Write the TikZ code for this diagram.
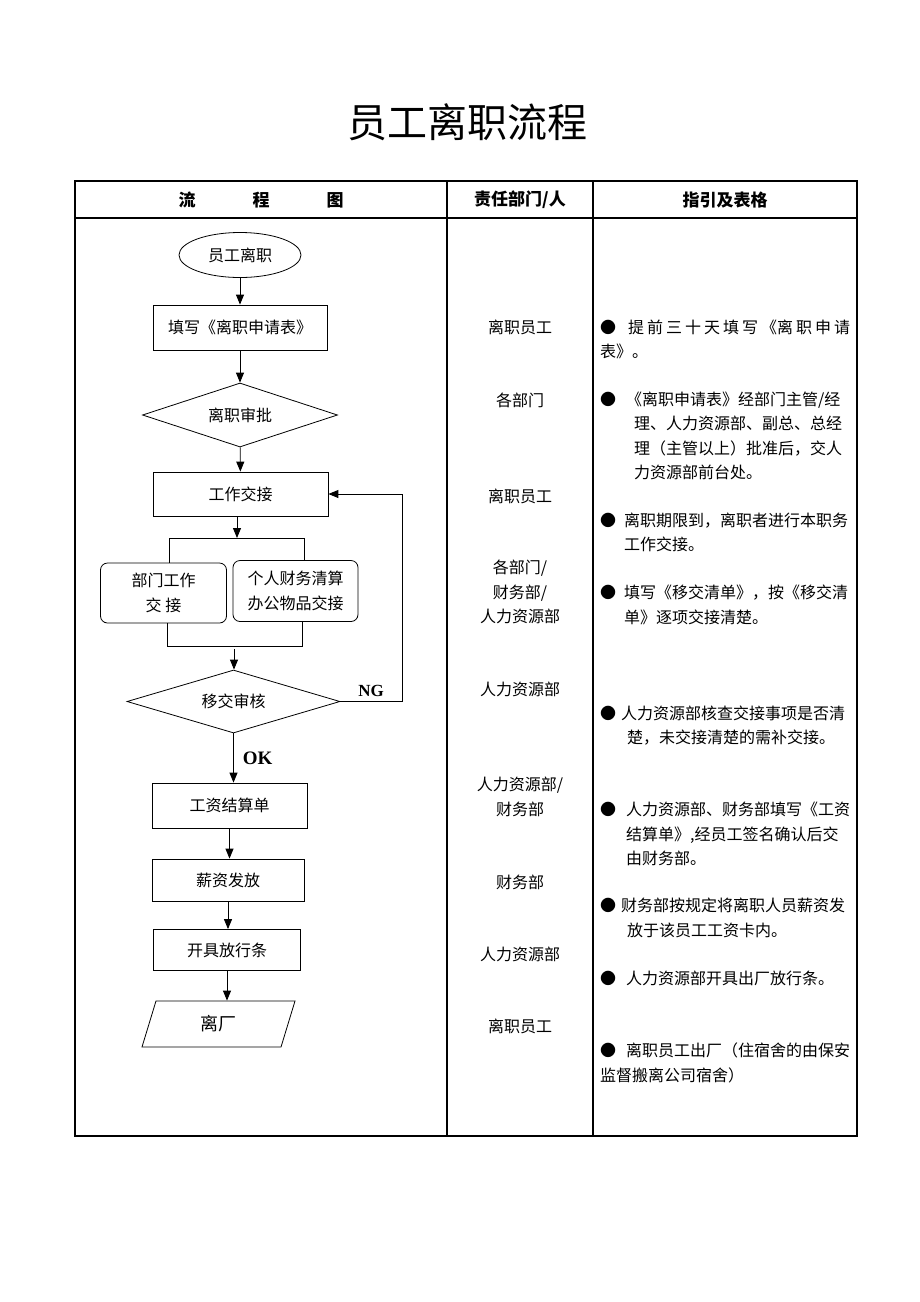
\documentclass[tikz,border=0pt]{standalone}
\usepackage{fontspec}
\newfontfamily\cjk{Noto Sans CJK SC}
\newfontfamily\romanbold{Liberation Serif}
\usetikzlibrary{shapes.geometric, arrows.meta, positioning}

\begin{document}
\begin{tikzpicture}[
    x=1pt, y=-1pt,
    every node/.style={font=\cjk\fontsize{16}{24.5}\selectfont, inner sep=0pt},
    process/.style={rectangle, draw=black, line width=0.8pt},
    subtask/.style={rectangle, rounded corners=7pt, draw=black, line width=0.8pt, align=center},
    decision/.style={diamond, aspect=3.2, draw=black, line width=0.8pt},
    terminal/.style={ellipse, draw=black, line width=0.8pt},
    iobox/.style={trapezium, trapezium left angle=50, trapezium right angle=130, trapezium stretches body, draw=black, line width=0.8pt},
    arrow/.style={-{Triangle[length=10pt,width=8pt]}, line width=0.9pt},
    link/.style={line width=0.8pt},
    verdict/.style={font=\romanbold\bfseries\fontsize{17}{17}\selectfont},
    header/.style={font=\cjk\bfseries\fontsize{17}{17}\selectfont},
    dept/.style={align=center},
    guide/.style={anchor=west, align=left},
    tableframe/.style={line width=1.8pt},
    tablerule/.style={line width=1.1pt}
]
\useasboundingbox (0,0) rectangle (920,1302);

% Title and table
\node[font=\cjk\fontsize{40}{40}\selectfont] (title) at (467,122) {员工离职流程};
\draw[tableframe] (75,181) rectangle (857,1136);
\draw[tablerule] (75,218) -- (857,218);
\draw[tablerule] (447,181) -- (447,1136);
\draw[tablerule] (593,181) -- (593,1136);

\node[header] (h1) at (261,200) {流\hspace{57pt}程\hspace{57pt}图};
\node[header] (h2) at (520,200) {责任部门/人};
\node[header] (h3) at (725,200) {指引及表格};

% Flow chart nodes
\node[terminal, minimum width=122pt, minimum height=45pt] (start) at (240,255) {员工离职};
\node[process, minimum width=174pt, minimum height=45pt] (apply) at (240,327.5) {填写《离职申请表》};
\node[decision, minimum width=195pt, minimum height=64pt] (approve) at (240,415) {离职审批};
\node[process, minimum width=175pt, minimum height=44pt] (handover) at (240.5,494) {工作交接};
\node[subtask, minimum width=126pt, minimum height=60pt] (deptwork) at (163.5,593) {部门工作\\交 接};
\node[subtask, minimum width=125pt, minimum height=61pt] (personal) at (295.5,591) {个人财务清算\\办公物品交接};
\node[decision, minimum width=213pt, minimum height=63pt] (check) at (233.5,701.5) {移交审核};
\node[process, minimum width=155pt, minimum height=45pt] (salary) at (229.5,805.5) {工资结算单};
\node[process, minimum width=152pt, minimum height=42pt] (pay) at (228,880) {薪资发放};
\node[process, minimum width=147pt, minimum height=41pt] (permit) at (227,950) {开具放行条};
\node[iobox, minimum width=153pt, minimum height=46pt, font=\cjk\fontsize{18}{18}\selectfont] (exit) at (218.5,1024) {离厂};

% Connectors
\draw[arrow] (start) -- (apply);
\draw[arrow] (apply) -- (approve);
\draw[arrow] (approve) -- (handover);
\coordinate (forkT) at (237,538);
\coordinate (forkL) at (169,538);
\coordinate (forkR) at (304,538);
\draw[arrow] (handover.south -| forkT) -- (forkT);
\draw[link] (forkL |- deptwork.north) -- (forkL) -- (forkR) -- (forkR |- personal.north);
\coordinate (joinL) at (167,646);
\coordinate (joinR) at (302,646);
\coordinate (joinM) at (234,649);
\draw[link] (joinL |- deptwork.south) -- (joinL) -- (joinR) -- (joinR |- personal.south);
\draw[arrow] (joinM) -- (joinM |- check.north);
\draw[arrow] (check.south) -- node[verdict, right=9pt, font=\romanbold\bfseries\fontsize{19}{19}\selectfont] {OK} (check.south |- salary.north);
\draw[arrow] (salary.south) -- (salary.south |- pay.north);
\draw[arrow] (pay.south) -- (pay.south |- permit.north);
\draw[arrow] (permit.south) -- (permit.south |- exit.north);
\coordinate (loopX) at (402,0);
\draw[arrow] (check.east) -- node[verdict, above=4pt] {NG} (check.east -| loopX) |- (handover.east);

% Responsible departments
\node[dept] (d1) at (520,327) {离职员工};
\node[dept] (d2) at (520,400) {各部门};
\node[dept] (d3) at (520,496) {离职员工};
\node[dept] (d4) at (520,592) {各部门/\\财务部/\\人力资源部};
\node[dept] (d5) at (520,689) {人力资源部};
\node[dept] (d6) at (520,797) {人力资源部/\\财务部};
\node[dept] (d7) at (520,882) {财务部};
\node[dept] (d8) at (520,954) {人力资源部};
\node[dept] (d9) at (520,1026) {离职员工};

% Guidance notes
\node[guide] (g1) at (600,339.5) {●\hspace{12pt}\makebox[222pt][s]{提 前 三 十 天 填 写 《离 职 申 请}\\表》。};
\node[guide] (g2) at (600,436) {●\hspace{10pt}《离职申请表》经部门主管/经\\\hspace*{34pt}理、人力资源部、副总、总经\\\hspace*{34pt}理（主管以上）批准后，交人\\\hspace*{34pt}力资源部前台处。};
\node[guide] (g3) at (600,532.5) {●\hspace{8pt}离职期限到，离职者进行本职务\\\hspace*{24pt}工作交接。};
\node[guide] (g4) at (600,605) {●\hspace{8pt}填写《移交清单》，按《移交清\\\hspace*{24pt}单》逐项交接清楚。};
\node[guide] (g5) at (600,725.5) {●\hspace{5pt}人力资源部核查交接事项是否清\\\hspace*{27pt}楚，未交接清楚的需补交接。};
\node[guide] (g6) at (600,834) {●\hspace{10pt}人力资源部、财务部填写《工资\\\hspace*{26pt}结算单》,经员工签名确认后交\\\hspace*{26pt}由财务部。};
\node[guide] (g7) at (600,918) {●\hspace{5pt}财务部按规定将离职人员薪资发\\\hspace*{27pt}放于该员工工资卡内。};
\node[guide] (g8) at (600,978) {●\hspace{10pt}人力资源部开具出厂放行条。};
\node[guide] (g9) at (600,1063) {●\hspace{10pt}离职员工出厂（住宿舍的由保安\\监督搬离公司宿舍）};

\end{tikzpicture}
\end{document}
